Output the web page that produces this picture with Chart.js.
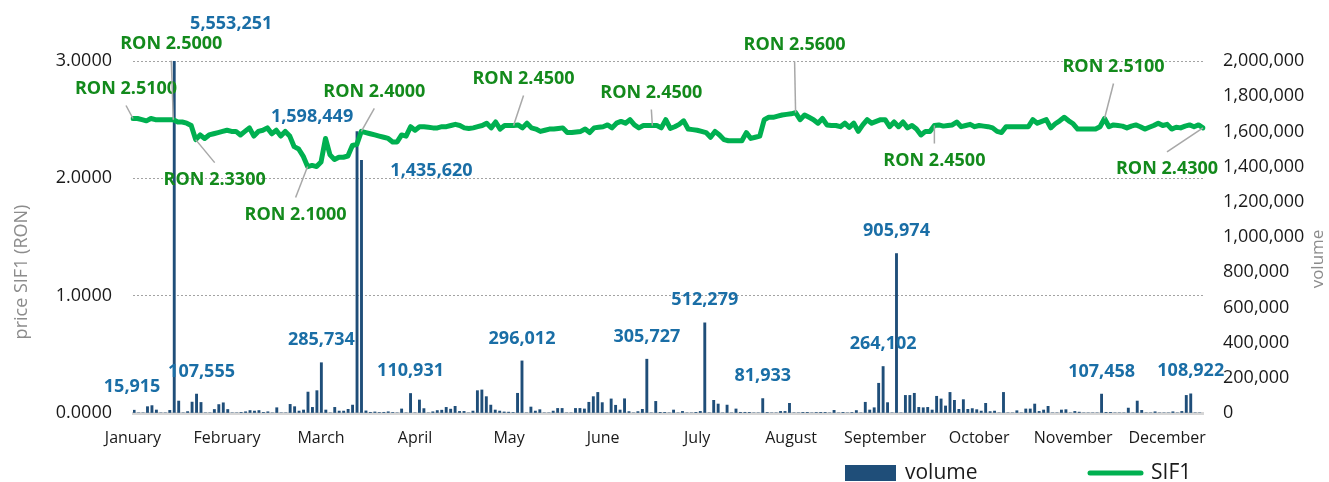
<!DOCTYPE html>
<html>
<head>
<meta charset="utf-8">
<script src="https://cdn.jsdelivr.net/npm/chart.js@4.4.1/dist/chart.umd.min.js"></script>
<style>
html,body{margin:0;padding:0;background:#fff;}
#wrap{width:1329px;height:482px;position:relative;}
</style>
</head>
<body>
<div id="wrap"><canvas id="c" width="1329" height="482"></canvas></div>
<script>
// ---- data ----
const months = ['January','February','March','April','May','June','July','August','September','October','November','December'];

const price = [
2.51,2.51,2.50,2.49,2.51,2.50,2.50,2.50,2.50,2.50,
2.48,2.48,2.47,2.45,2.33,2.37,2.34,2.37,2.38,2.39,
2.40,2.41,2.40,2.40,2.37,2.40,2.43,2.36,2.40,2.41,
2.43,2.38,2.41,2.36,2.40,2.36,2.27,2.25,2.19,2.10,
2.11,2.10,2.14,2.34,2.20,2.16,2.18,2.18,2.19,2.28,
2.29,2.40,2.39,2.38,2.37,2.36,2.35,2.34,2.31,2.31,
2.37,2.36,2.44,2.41,2.44,2.44,2.435,2.43,2.43,2.44,
2.44,2.45,2.46,2.45,2.43,2.425,2.43,2.44,2.45,2.47,
2.43,2.48,2.42,2.45,2.45,2.45,2.455,2.43,2.47,2.43,
2.42,2.40,2.41,2.42,2.42,2.425,2.43,2.39,2.39,2.395,
2.40,2.42,2.39,2.43,2.435,2.44,2.455,2.43,2.47,2.485,
2.47,2.50,2.455,2.43,2.45,2.45,2.45,2.45,2.43,2.50,
2.425,2.44,2.46,2.49,2.42,2.415,2.41,2.40,2.39,2.35,
2.40,2.37,2.33,2.32,2.32,2.32,2.32,2.39,2.34,2.35,
2.36,2.50,2.52,2.52,2.53,2.54,2.545,2.55,2.56,2.50,
2.54,2.52,2.50,2.47,2.51,2.455,2.45,2.45,2.44,2.47,
2.435,2.47,2.40,2.455,2.50,2.47,2.485,2.50,2.50,2.44,
2.48,2.44,2.48,2.43,2.45,2.42,2.37,2.40,2.40,2.45,
2.455,2.445,2.45,2.455,2.48,2.44,2.45,2.46,2.44,2.45,
2.445,2.44,2.43,2.40,2.39,2.44,2.44,2.44,2.44,2.44,
2.44,2.50,2.47,2.485,2.50,2.43,2.465,2.49,2.52,2.49,
2.465,2.42,2.42,2.42,2.42,2.42,2.44,2.51,2.44,2.455,
2.45,2.445,2.43,2.445,2.455,2.44,2.42,2.435,2.45,2.47,
2.45,2.46,2.42,2.435,2.43,2.445,2.455,2.44,2.455,2.43
];

const volume = [
15915,0,0,36000,42000,17000,0,0,15000,5553251,
68000,0,8000,62000,107555,60000,0,0,20000,48000,
58000,20000,0,0,2000,7000,14000,11000,14000,2000,
7000,0,30000,0,0,49000,36000,11000,17000,119000,
32000,127000,285734,17000,0,32000,11000,11000,21000,45000,
1598449,1435620,12000,4000,6000,3000,4000,7000,3000,0,
23000,0,110931,0,74000,25000,0,7000,14000,16000,
32000,22000,38000,9000,9000,0,11000,127000,131000,93000,
45000,17000,11000,6000,5000,3000,112000,296012,0,34000,
11000,19000,0,0,11000,26000,26000,0,0,26000,
26000,23000,61000,93000,117000,59000,0,80000,44000,17000,
81000,8000,0,8000,21000,305727,0,66000,2000,2000,
0,17000,0,9000,0,0,2000,9000,512279,0,
72000,51000,0,45000,0,23000,4000,4000,2000,0,
0,81933,3000,0,0,9000,9000,55000,0,0,
2000,2000,0,3000,2000,2000,0,15000,0,2000,
0,3000,14000,0,61000,17000,30000,169000,264102,59000,
0,905974,0,100000,100000,112000,32000,30000,32000,17000,
95000,80000,40000,117000,72000,21000,76000,21000,25000,19000,
11000,55000,8000,11000,0,117000,0,0,13000,0,
23000,23000,51000,9000,17000,38000,0,0,17000,19000,
0,9000,5000,0,0,0,0,107458,2000,2000,
0,0,0,28000,0,68000,15000,0,0,7000,
0,0,0,7000,0,9000,100000,108922,0,0
];

// days that carry a price note / a volume note (index into the series)
const priceNoteDays = [0, 9, 14, 39, 51, 85, 116, 148, 179, 217, 239];
const volumeNoteDays = [0, 9, 14, 42, 50, 51, 62, 87, 115, 128, 141, 168, 171, 217, 237];

// ---- presentation (label placement offsets, px) ----
const priceNoteOffsets = {
  0:[-7,-30], 9:[-2,-76], 14:[19,40], 39:[-12,48], 51:[13,-40],
  85:[10,-47], 116:[-1,-33], 148:[-1,-68], 179:[0,35], 217:[9,-52], 239:[-36,41]
};
const volumeNoteOffsets = {
  0:[-2,-23], 9:[57,-37], 14:[5,-22], 50:[-45,-15], 51:[70,11]
};

const dayLabels = price.map((_, i) => String(i));

const FONT = "'Open Sans', 'Noto Sans', sans-serif";

const notesPlugin = {
  id: 'notes',
  afterDatasetsDraw(chart) {
    const ctx = chart.ctx;
    const barMeta = chart.getDatasetMeta(0);
    const lineMeta = chart.getDatasetMeta(1);
    const yv = chart.scales.yVol;
    const area = chart.chartArea;
    ctx.save();
    ctx.textAlign = 'center';
    ctx.textBaseline = 'middle';
    ctx.font = 'bold 18px ' + FONT;
    priceNoteDays.forEach(i => {
      const pt = lineMeta.data[i];
      const off = priceNoteOffsets[i] || [0, -30];
      const lx = pt.x + off[0], ly = pt.y + off[1];
      const sy = ly + (off[1] < 0 ? 17 : -17);
      ctx.strokeStyle = '#a8a8a8';
      ctx.lineWidth = 1.5;
      ctx.beginPath();
      ctx.moveTo(lx, sy);
      ctx.lineTo(pt.x, pt.y);
      ctx.stroke();
      ctx.fillStyle = '#138a1c';
      ctx.fillText('RON ' + price[i].toFixed(4), lx, ly);
    });
    volumeNoteDays.forEach(i => {
      const bar = barMeta.data[i];
      const top = Math.max(yv.getPixelForValue(volume[i]), area.top);
      const off = volumeNoteOffsets[i] || [0, -22.5];
      ctx.fillStyle = '#1a6ea6';
      ctx.fillText(volume[i].toLocaleString('en-US'), bar.x + off[0], top + off[1]);
    });
    ctx.restore();
  },
  afterDraw(chart) {
    const ctx = chart.ctx;
    const area = chart.chartArea;
    ctx.save();
    ctx.fillStyle = '#8c8c8c';
    ctx.textAlign = 'center';
    ctx.textBaseline = 'middle';
    ctx.font = '18px ' + FONT;
    ctx.save();
    ctx.translate(22, 272);
    ctx.rotate(-Math.PI / 2);
    ctx.fillText('price SIF1 (RON)', 0, 0);
    ctx.restore();
    ctx.font = '17px ' + FONT;
    ctx.save();
    ctx.translate(1318, 259);
    ctx.rotate(-Math.PI / 2);
    ctx.fillText('volume', 0, 0);
    ctx.restore();
    // legend
    const ds = chart.data.datasets;
    const R = area.right;
    const ly = 473;
    ctx.font = '21px ' + FONT;
    ctx.textAlign = 'left';
    ctx.fillStyle = ds[0].backgroundColor;
    ctx.fillRect(R - 358, ly - 8, 51, 16);
    ctx.fillStyle = '#1a1a1a';
    ctx.fillText(ds[0].label, R - 298, ly);
    ctx.strokeStyle = ds[1].borderColor;
    ctx.lineWidth = 5;
    ctx.lineCap = 'round';
    ctx.beginPath();
    ctx.moveTo(R - 113, ly);
    ctx.lineTo(R - 62, ly);
    ctx.stroke();
    ctx.fillText(ds[1].label, R - 52, ly);
    ctx.restore();
  }
};

function build() {
  new Chart(document.getElementById('c'), {
    type: 'bar',
    data: {
      labels: dayLabels,
      datasets: [
        {
          type: 'bar', label: 'volume', data: volume,
          xAxisID: 'xb', yAxisID: 'yVol',
          backgroundColor: '#1f4e79',
          barPercentage: 1, categoryPercentage: 1,
          order: 1
        },
        {
          type: 'line', label: 'SIF1', data: price,
          xAxisID: 'x', yAxisID: 'yPrice',
          borderColor: '#00b050', backgroundColor: '#00b050',
          borderWidth: 5, pointRadius: 0, pointHoverRadius: 0,
          tension: 0, borderJoinStyle: 'round', borderCapStyle: 'round',
          fill: false, order: 0
        }
      ]
    },
    options: {
      responsive: false,
      animation: false,
      devicePixelRatio: 1,
      layout: { padding: { top: 61, left: 0, right: 0, bottom: 0 } },
      plugins: { legend: { display: false }, tooltip: { enabled: false } },
      font: { family: FONT },
      scales: {
        x: {
          type: 'category', offset: false,
          grid: { display: false, drawTicks: false },
          border: { display: true, color: '#d6d6d6', width: 3 },
          ticks: {
            autoSkip: false, maxRotation: 0, minRotation: 0, padding: 16,
            color: '#1a1a1a', font: { family: FONT, size: 16 },
            callback: (v, i) => (i % 21 === 0 ? months[i / 21] : '')
          },
          afterFit: s => { s.height = 69; }
        },
        xb: {
          type: 'category', offset: true, display: false,
          grid: { offset: true }
        },
        yPrice: {
          position: 'left', min: 0, max: 3,
          ticks: {
            stepSize: 1, padding: 21, color: '#1a1a1a',
            font: { family: FONT, size: 18 },
            callback: v => Number(v).toFixed(4)
          },
          grid: {
            drawTicks: false, lineWidth: 1,
            color: c => (c.tick && c.tick.value === 0 ? 'rgba(0,0,0,0)' : '#a3a3a3')
          },
          border: { display: false, dash: [2, 2] },
          afterFit: s => { s.width = 133; }
        },
        yVol: {
          position: 'right', min: 0, max: 2000000,
          ticks: {
            stepSize: 200000, padding: 20, color: '#1a1a1a',
            font: { family: FONT, size: 18 },
            callback: v => Number(v).toLocaleString('en-US')
          },
          grid: { drawOnChartArea: false, drawTicks: false },
          border: { display: false },
          afterFit: s => { s.width = 126; }
        }
      }
    },
    plugins: [notesPlugin]
  });
}

if (document.fonts && document.fonts.load) {
  Promise.all([
    document.fonts.load("18px 'Open Sans'"),
    document.fonts.load("bold 18px 'Open Sans'")
  ]).then(build, build);
} else {
  build();
}
</script>
</body>
</html>
